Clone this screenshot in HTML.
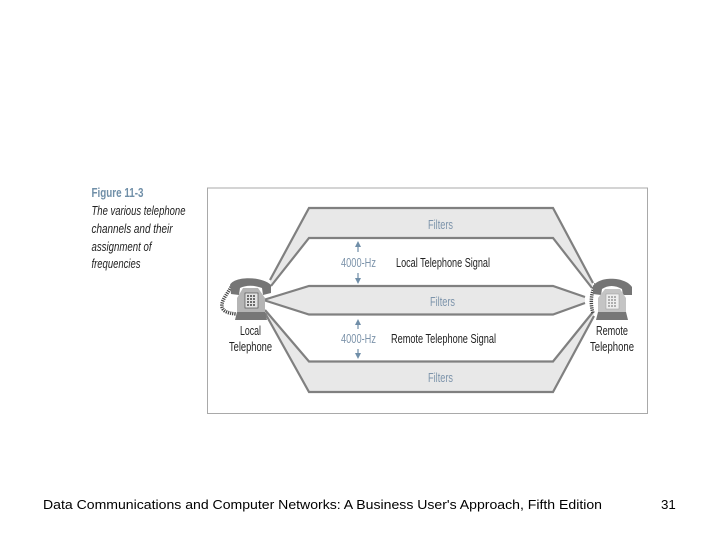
<!DOCTYPE html>
<html>
<head>
<meta charset="utf-8">
<style>
html,body{margin:0;padding:0;background:#fff;width:720px;height:540px;overflow:hidden}
svg{display:block}
text{font-family:"Liberation Sans",sans-serif}
</style>
</head>
<body>
<svg width="720" height="540" viewBox="0 0 720 540" xmlns="http://www.w3.org/2000/svg">
<defs><filter id="b" x="-5%" y="-5%" width="110%" height="110%"><feGaussianBlur stdDeviation="0.35"/></filter></defs>
<rect x="207.5" y="188" width="440" height="225.5" fill="#fff" stroke="#a9a9a9" stroke-width="1"/>

<g filter="url(#b)">
<!-- bands -->
<g fill="#e8e8e8" stroke="none">
<polygon points="309,208 553,208 593,283 592,288 553,238 309,238 271,286 270,280"/>
<polygon points="309,286 553,286 585,297 585,303 553,314.5 309,314.5 265,300.500 265,299.500"/>
<polygon points="309,361.500 553,361.500 593,312 594,316 553,392 309,392 265,313 265,310"/>
</g>
<g fill="none" stroke="#808080" stroke-width="2.200">
<polyline points="270,280 309,208 553,208 593,283"/>
<polyline points="271,286 309,238 553,238 592,288"/>
<polyline points="265,299.500 309,286 553,286 585,297"/>
<polyline points="265,300.500 309,314.500 553,314.500 585,303"/>
<polyline points="265,310 309,361.500 553,361.500 593,312"/>
<polyline points="265,313 309,392 553,392 594,316"/>
</g>

<!-- left telephone -->
<g>
<path d="M231,287 C228,293 223,298 222,304 C221,311 227,313 236,314" fill="none" stroke="#444" stroke-width="3.500" stroke-dasharray="1.200 1"/>
<path d="M230,285 C234,276 262,276 271,285 L271,293 L263,295 L262,288 C254,285 246,285 240,288 L239,295 L231,294 Z" fill="#757575"/>
<polygon points="243,288 258,288 265,298 265,312 237,312 237,298" fill="#b5b5b5"/>
<rect x="245" y="293" width="13" height="15" fill="#e3e3e3" stroke="#555" stroke-width="0.700"/>
<path d="M247,296h9M247,299h9M247,302h9M247,305h9" stroke="#444" stroke-width="1.400" stroke-dasharray="2 1"/>
<polygon points="237,312 265,312 267,320 235,320" fill="#777"/>
</g>

<!-- right telephone -->
<g>
<path d="M596,284 C591,292 590,303 593,313" fill="none" stroke="#444" stroke-width="3.500" stroke-dasharray="1.200 1"/>
<path d="M593,287 C597,276 625,276 632,287 L632,295 L623,295 L622,289 C615,285 608,285 602,289 L601,295 L593,294 Z" fill="#757575"/>
<polygon points="605,289 620,289 626,298 626,312 598,312 598,298" fill="#c4c4c4"/>
<rect x="606" y="294" width="13" height="15" fill="#eeeeee" stroke="#999" stroke-width="0.500"/>
<path d="M608,297h9M608,300h9M608,303h9M608,306h9" stroke="#888" stroke-width="1.200" stroke-dasharray="2 1"/>
<polygon points="598,312 626,312 628,320 596,320" fill="#777"/>
</g>

<!-- arrows -->
<g stroke="#6f8ea8" stroke-width="1.200" fill="#6f8ea8">
<line x1="358" y1="246" x2="358" y2="252"/><polygon points="358,241 355,247 361,247" stroke="none"/>
<line x1="358" y1="273" x2="358" y2="279"/><polygon points="358,284 355,278 361,278" stroke="none"/>
<line x1="358" y1="324" x2="358" y2="329"/><polygon points="358,319 355,325 361,325" stroke="none"/>
<line x1="358" y1="349" x2="358" y2="354"/><polygon points="358,359 355,353 361,353" stroke="none"/>
</g>

<!-- figure caption -->
<text x="91.500" y="197" font-size="13" font-weight="bold" fill="#6f8fa8" textLength="52" lengthAdjust="spacingAndGlyphs">Figure 11-3</text>
<g font-size="13" font-style="italic" fill="#222">
<text x="91.500" y="215" textLength="94" lengthAdjust="spacingAndGlyphs">The various telephone</text>
<text x="91.500" y="233" textLength="81" lengthAdjust="spacingAndGlyphs">channels and their</text>
<text x="91.500" y="251" textLength="60" lengthAdjust="spacingAndGlyphs">assignment of</text>
<text x="91.500" y="268" textLength="49" lengthAdjust="spacingAndGlyphs">frequencies</text>
</g>

<!-- labels -->
<g font-size="13" fill="#7d94ab">
<text x="428" y="229" textLength="25" lengthAdjust="spacingAndGlyphs">Filters</text>
<text x="430" y="306" textLength="25" lengthAdjust="spacingAndGlyphs">Filters</text>
<text x="428" y="382" textLength="25" lengthAdjust="spacingAndGlyphs">Filters</text>
<text x="341" y="267" textLength="35" lengthAdjust="spacingAndGlyphs">4000-Hz</text>
<text x="341" y="343" textLength="35" lengthAdjust="spacingAndGlyphs">4000-Hz</text>
</g>
<g font-size="13" fill="#222">
<text x="396" y="267" textLength="94" lengthAdjust="spacingAndGlyphs">Local Telephone Signal</text>
<text x="391" y="343" textLength="105" lengthAdjust="spacingAndGlyphs">Remote Telephone Signal</text>
<text x="240" y="335" textLength="21" lengthAdjust="spacingAndGlyphs">Local</text>
<text x="229" y="351" textLength="43" lengthAdjust="spacingAndGlyphs">Telephone</text>
<text x="596" y="335" textLength="32" lengthAdjust="spacingAndGlyphs">Remote</text>
<text x="590" y="351" textLength="44" lengthAdjust="spacingAndGlyphs">Telephone</text>
</g>
</g>

<!-- footer -->
<text x="43" y="509" font-size="13.300" fill="#000" textLength="559" lengthAdjust="spacingAndGlyphs">Data Communications and Computer Networks: A Business User's Approach, Fifth Edition</text>
<text x="661" y="509" font-size="13.300" fill="#000">31</text>
</svg>
</body>
</html>
